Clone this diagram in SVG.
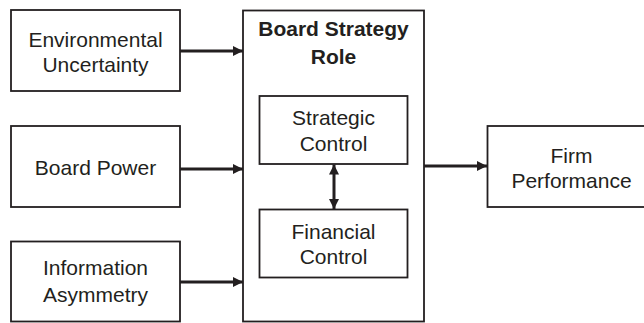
<svg xmlns="http://www.w3.org/2000/svg" width="644" height="323" viewBox="0 0 644 323">
<defs>
<style>
.box{fill:#fff;stroke:#231f20;stroke-width:1.8}
.t{font-family:"Liberation Sans",Arial,sans-serif;font-size:21px;fill:#231f20;text-anchor:middle}
.b{font-weight:bold}
.c{stroke:#231f20;stroke-width:3;fill:none}
</style>
<marker id="ah" markerWidth="10" markerHeight="10" refX="10" refY="5" orient="auto-start-reverse" markerUnits="userSpaceOnUse" viewBox="0 0 10 10">
<path d="M0,0 L10,5 L0,10 Z" fill="#231f20"/>
</marker>
</defs>
<rect width="644" height="323" fill="#fff"/>
<g id="env"><rect class="box" x="11" y="10" width="169" height="81"/>
<text class="t" x="95.5" y="46.5">Environmental</text><text class="t" x="95.5" y="71.5">Uncertainty</text></g>
<g id="power"><rect class="box" x="11" y="126" width="169" height="81"/>
<text class="t" x="95.5" y="174.5">Board Power</text></g>
<g id="info"><rect class="box" x="11" y="241.5" width="169" height="80"/>
<text class="t" x="95.5" y="275">Information</text><text class="t" x="95.5" y="301.5">Asymmetry</text></g>
<g id="role"><rect class="box" x="243" y="10.5" width="181" height="311"/>
<text class="t b" x="333.5" y="36">Board Strategy</text><text class="t b" x="333.5" y="64">Role</text></g>
<g id="strategic"><rect class="box" x="259.5" y="96" width="148" height="68"/>
<text class="t" x="333.5" y="125">Strategic</text><text class="t" x="333.5" y="150.5">Control</text></g>
<g id="financial"><rect class="box" x="259.5" y="209.5" width="148" height="68"/>
<text class="t" x="333.5" y="239">Financial</text><text class="t" x="333.5" y="263.5">Control</text></g>
<g id="firm"><rect class="box" x="487.5" y="126" width="169" height="81"/>
<text class="t" x="571.5" y="163">Firm</text><text class="t" x="571.5" y="187.5">Performance</text></g>
<g id="connectors">
<line class="c" x1="180" y1="51" x2="243" y2="51" marker-end="url(#ah)"/>
<line class="c" x1="180" y1="169" x2="243" y2="169" marker-end="url(#ah)"/>
<line class="c" x1="180" y1="282" x2="243" y2="282" marker-end="url(#ah)"/>
<line class="c" x1="424" y1="166" x2="487" y2="166" marker-end="url(#ah)"/>
<line class="c" x1="334" y1="164.5" x2="334" y2="209" marker-start="url(#ah)" marker-end="url(#ah)"/>
</g>
</svg>
